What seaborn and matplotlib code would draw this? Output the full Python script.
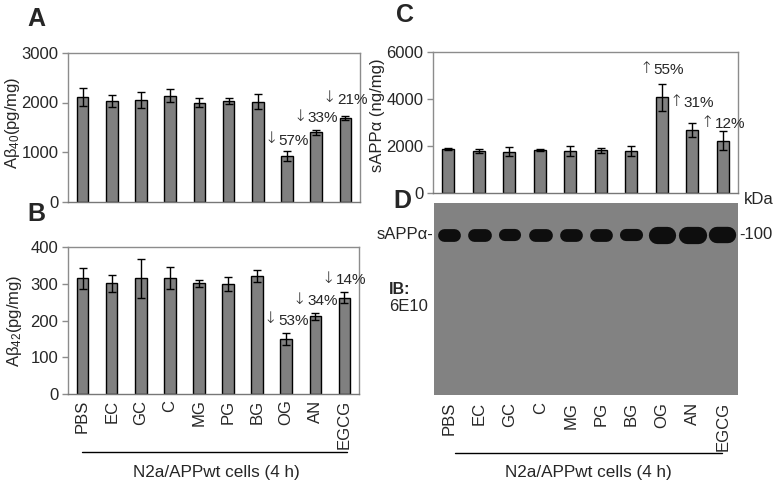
import numpy as np
import pandas as pd
import matplotlib
matplotlib.use("Agg")
import matplotlib.pyplot as plt
import seaborn as sns

# ---------------- data ----------------
categories = ["PBS", "EC", "GC", "C", "MG", "PG", "BG", "OG", "AN", "EGCG"]

ab40_mean = [2110, 2030, 2050, 2140, 2000, 2030, 2020, 920, 1400, 1680]
ab40_err = [175, 130, 170, 130, 95, 70, 155, 100, 50, 40]
ab40_notes = ["", "", "", "", "", "", "", "↓57%", "↓33%", "↓21%"]
ab40_note_y = [0, 0, 0, 0, 0, 0, 0, 1230, 1690, 2060]

ab42_mean = [315, 302, 315, 315, 302, 300, 322, 150, 212, 262]
ab42_err = [28, 23, 54, 30, 10, 19, 16, 16, 10, 15]
ab42_notes = ["", "", "", "", "", "", "", "↓53%", "↓34%", "↓14%"]
ab42_note_y = [0, 0, 0, 0, 0, 0, 0, 200, 254, 311]

sapp_mean = [1880, 1800, 1760, 1820, 1790, 1810, 1790, 4070, 2700, 2230]
sapp_err = [50, 80, 180, 50, 200, 100, 230, 580, 300, 400]
sapp_notes = ["", "", "", "", "", "", "", "↑55%", "↑31%", "↑12%"]
sapp_note_y = [0, 0, 0, 0, 0, 0, 0, 5230, 3820, 2930]

# relative band signal on the 6E10 blot
band_signal = [1.0, 1.0, 0.95, 1.0, 1.0, 1.0, 0.95, 1.35, 1.35, 1.28]

group_label = "N2a/APPwt cells (4 h)"

# ---------------- style ----------------
sns.set_theme(style="white")
plt.rcParams["font.family"] = ["Liberation Sans", "DejaVu Sans"]
plt.rcParams["mathtext.fontset"] = "custom"
plt.rcParams["mathtext.rm"] = "Liberation Sans"
plt.rcParams["mathtext.it"] = "Liberation Sans"
plt.rcParams["mathtext.bf"] = "Liberation Sans:bold"

FS = 12
BAR = "#808080"
FRAME = "#8c8c8c"

fig = plt.figure(figsize=(7.78, 4.88), dpi=100)
W, H = 778, 488


def add_ax(l, r, t, b):
    return fig.add_axes([l / W, 1 - b / H, (r - l) / W, (b - t) / H])


def bar_panel(ax, means, errs, notes, note_y, ymax, step, ylabel, lab_x, lab_y):
    df = pd.DataFrame({"cat": categories, "val": means})
    sns.barplot(data=df, x="cat", y="val", order=categories, color=BAR,
                saturation=1, width=0.4, edgecolor="black", linewidth=1,
                errorbar=None, ax=ax)
    x = np.arange(len(categories))
    ax.errorbar(x, means, yerr=errs, fmt="none", ecolor="black",
                elinewidth=1, capsize=3, capthick=1)
    for xi, t, yy in zip(x, notes, note_y):
        if t:
            ax.annotate(t[1:], xy=(xi, yy), xytext=(-6.0, 0),
                        textcoords="offset points", ha="left", va="center",
                        fontsize=11)
            ax.annotate(t[0], xy=(xi, yy), xytext=(-11.4, 1.2),
                        textcoords="offset points", ha="center",
                        va="center", fontsize=11.5,
                        family=["DejaVu Sans"], fontweight="light")
    ax.set_xlim(-0.5, len(categories) - 0.5)
    ax.set_ylim(0, ymax)
    ax.set_yticks(np.arange(0, ymax + 1, step))
    ax.tick_params(axis="y", labelsize=FS, length=4, width=1,
                   color=FRAME, pad=3, left=True)
    ax.set_xlabel("")
    ax.set_ylabel(ylabel, fontsize=FS)
    ax.yaxis.set_label_coords(lab_x, lab_y)
    for s in ax.spines.values():
        s.set_visible(True)
        s.set_color(FRAME)
        s.set_linewidth(1)
    ax.spines["bottom"].set_color("#777777")


# Panel A
axA = add_ax(68, 360, 53, 201.5)
bar_panel(axA, ab40_mean, ab40_err, ab40_notes, ab40_note_y, 3000, 1000,
          "Aβ$_{40}$(pg/mg)", -0.158, 0.53)
axA.set_xticks(np.arange(len(categories)))
axA.set_xticklabels([])
axA.tick_params(axis="x", length=0)

# Panel B
axB = add_ax(68, 359, 247.3, 394)
bar_panel(axB, ab42_mean, ab42_err, ab42_notes, ab42_note_y, 400, 100,
          "Aβ$_{42}$(pg/mg)", -0.15, 0.5)
axB.set_xticks(np.arange(len(categories)))
axB.set_xticklabels(categories, rotation=90, fontsize=FS, va="top",
                    ha="center")
axB.tick_params(axis="x", length=0, pad=4)
trB = axB.get_xaxis_transform()
axB.plot([-0.02, 9.1], [-0.395, -0.395], color="black", lw=1,
         transform=trB, clip_on=False)
axB.text(4.6, -0.535, group_label, transform=trB, ha="center", va="center",
         fontsize=FS + 0.3)

# Panel C
axC = add_ax(433, 738, 52, 193)
bar_panel(axC, sapp_mean, sapp_err, sapp_notes, sapp_note_y, 6000, 2000,
          "sAPPα (ng/mg)", -0.158, 0.55)
axC.set_xticks(np.arange(len(categories)))
axC.set_xticklabels([])
axC.tick_params(axis="x", length=0)

# Panel D (western blot)
axD = add_ax(434, 738, 203, 395)
axD.set_facecolor("#828282")
axD.set_xlim(-0.5, len(categories) - 0.5)
axD.set_ylim(0, 1)
band_y = 0.835
for xi, s in zip(range(len(categories)), band_signal):
    half = 0.17 + 0.03 * (s - 1)
    axD.plot([xi - half, xi + half], [band_y, band_y], color="#0e0e0e",
             lw=9.2 * s, solid_capstyle="round")
axD.set_yticks([])
axD.set_xticks(np.arange(len(categories)))
axD.set_xticklabels(categories, rotation=90, fontsize=FS, va="top",
                    ha="center")
axD.tick_params(axis="x", length=0, pad=5)
for s in axD.spines.values():
    s.set_visible(False)
axD.text(-0.002, band_y, "sAPPα-", transform=axD.transAxes,
         ha="right", va="center", fontsize=FS)
axD.text(1.003, band_y, "-100", transform=axD.transAxes, ha="left",
         va="center", fontsize=FS)
axD.text(1.02, 1.02, "kDa", transform=axD.transAxes, ha="left",
         va="center", fontsize=FS)
axD.text(-0.148, 0.55, "IB:", transform=axD.transAxes, ha="left",
         va="center", fontsize=FS - 0.5, fontweight="bold")
axD.text(-0.148, 0.46, "6E10", transform=axD.transAxes, ha="left",
         va="center", fontsize=FS)
trD = axD.get_xaxis_transform()
axD.plot([0.19, 8.97], [-0.302, -0.302], color="black", lw=1,
         transform=trD, clip_on=False)
axD.text(4.57, -0.406, group_label, transform=trD, ha="center",
         va="center", fontsize=FS + 0.3)

# Panel letters
for letter, px, py in [("A", 27, 19), ("B", 27, 214), ("C", 396, 15),
                       ("D", 393, 201)]:
    fig.text(px / W, 1 - py / H, letter, fontsize=18, fontweight="bold",
             ha="left", va="center")

fig.savefig("out.png", dpi=100)
